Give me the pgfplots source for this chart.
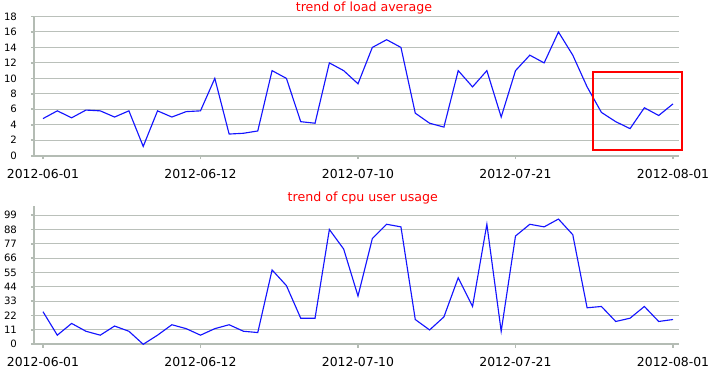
\documentclass[border=0pt]{standalone}
\usepackage{pgfplots}
\usepackage{pgfplotstable}
\pgfplotsset{compat=1.18}
\usepackage{fontspec}
\setmainfont{DejaVu Sans}
\definecolor{axisgray}{RGB}{180,188,180}
\definecolor{gridgray}{RGB}{186,192,186}
\definecolor{lineblue}{RGB}{20,20,255}
\definecolor{titlered}{RGB}{255,0,0}

\pgfplotstableread{
i load cpu
0 4.8 25
1 5.8 7
2 4.9 16
3 5.9 10
4 5.8 7
5 5.0 14
6 5.8 10
7 1.2 0
8 5.8 7
9 5.0 15
10 5.7 12
11 5.8 7
12 10.0 12
13 2.8 15
14 2.9 10
15 3.2 9
16 11.0 57
17 10.0 45
18 4.4 20
19 4.2 20
20 12.0 88
21 11.0 73
22 9.3 37
23 14.0 81
24 15.0 92
25 14.0 90
26 5.5 19
27 4.2 11
28 3.7 21
29 11.0 51
30 8.9 29
31 11.0 92
32 5.0 10
33 11.0 83
34 13.0 92
35 12.0 90
36 16.0 96
37 13.0 84
38 8.9 28
39 5.6 29
40 4.4 17.5
41 3.5 20
42 6.2 29
43 5.2 17.5
44 6.7 19
}\datatable

\pgfplotsset{mystyle/.style={
  scale only axis, width=483.75pt,
  xmin=-0.607, xmax=44.44, ymin=0,
  axis x line*=bottom, axis y line*=left,
  axis line style={axisgray, line width=1.5pt, -},
  ymajorgrids, grid style={gridgray, line width=0.75pt},
  tick style={axisgray, line width=1.3pt},
  major tick length=2.5pt,
  tick align=outside,
  xtick={0,11,22,33,44},
  xticklabels={2012-06-01,2012-06-12,2012-07-10,2012-07-21,2012-08-01},
  xticklabel style={font=\fontsize{9.3}{11}\selectfont, anchor=base, inner sep=0pt, yshift=-14.5pt},
  yticklabel style={font=\fontsize{7.6}{9}\selectfont, anchor=east, inner sep=0pt, xshift=-10.35pt},
  /pgf/number format/assume math mode=true,
  clip=false,
}}

\begin{document}
\begin{tikzpicture}
\useasboundingbox (0,0) rectangle (540.75pt,276.75pt);
\begin{axis}[mystyle,
  at={(25.725pt,159.975pt)}, anchor=south west,
  height=104.4pt, ymax=18,
  ytick={0,2,4,6,8,10,12,14,16,18}]
\addplot[lineblue, line width=0.85pt] table[x=i, y=load] {\datatable};
\draw[titlered, line width=1.6pt] (axis cs:38.41,0.70) rectangle (axis cs:44.65,10.86);
\end{axis}
\begin{axis}[mystyle,
  at={(25.725pt,18.525pt)}, anchor=south west,
  height=103.725pt, ymax=106,
  ytick={0,11,22,33,44,55,66,77,88,99}]
\addplot[lineblue, line width=0.85pt] table[x=i, y=cpu] {\datatable};
\end{axis}
\node[anchor=base, text=titlered, font=\fontsize{9.45}{11}\selectfont, inner sep=0pt] at (273pt,267.975pt) {trend of load average};
\node[anchor=base, text=titlered, font=\fontsize{9.45}{11}\selectfont, inner sep=0pt] at (272.1pt,125.475pt) {trend of cpu user usage};
\end{tikzpicture}
\end{document}
